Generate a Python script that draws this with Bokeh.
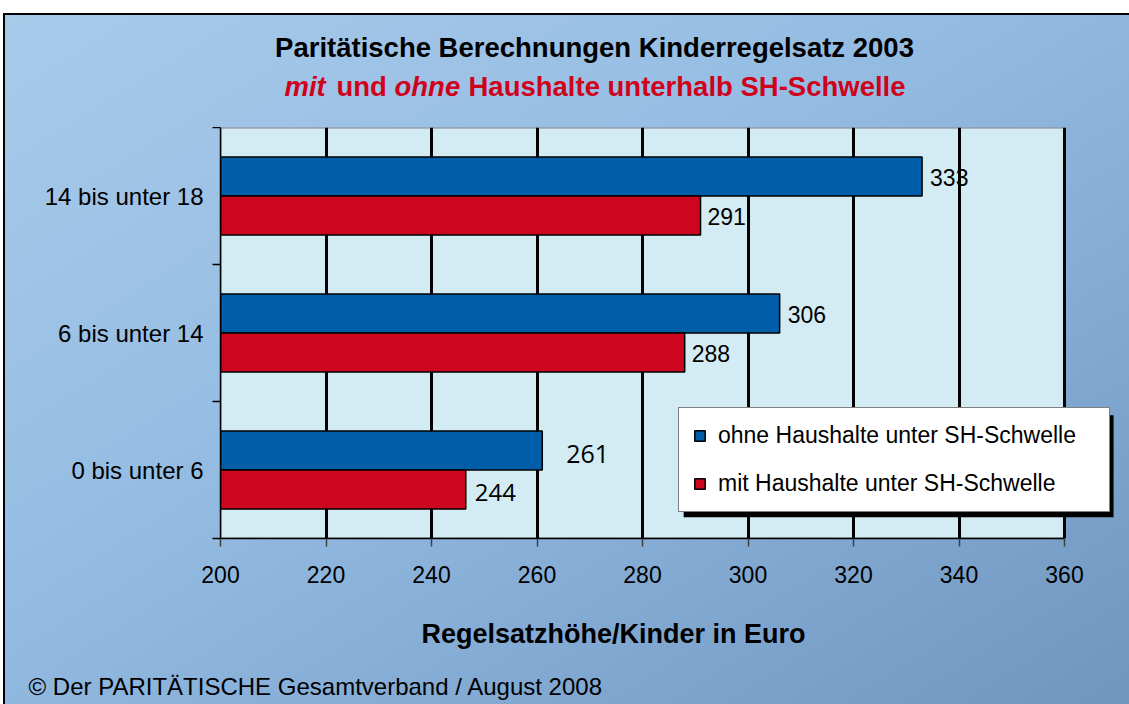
from bokeh.plotting import figure
from bokeh.layouts import column
from bokeh.models import (ColumnDataSource, Range1d, FixedTicker, Legend, LegendItem,
                          BoxAnnotation)
from bokeh.transform import dodge
from bokeh.core.properties import value
from bokeh.embed import file_html
from bokeh.resources import INLINE

# ---- data ----
categories = ["0 bis unter 6", "6 bis unter 14", "14 bis unter 18"]
ohne_values = [261, 306, 333]          # blue bars
ohne_labels = ["261", "306", "333"]
mit_values = [246.5, 288, 291]         # red bars (bar lengths)
mit_labels = ["244", "288", "291"]
x_ticks = [200, 220, 240, 260, 280, 300, 320, 340, 360]

title_text = "Paritätische Berechnungen Kinderregelsatz 2003"
subtitle_parts = ["mit", "und", "ohne", "Haushalte unterhalb SH-Schwelle"]
footer_text = "© Der PARITÄTISCHE Gesamtverband / August 2008"
x_label = "Regelsatzhöhe/Kinder in Euro"
legend_ohne = "ohne Haushalte unter SH-Schwelle"
legend_mit = "mit Haushalte unter SH-Schwelle"

BLUE = "#005da8"
RED = "#cc061e"
FONT = "Liberation Sans"
W = 1129


def text_panel(height):
    f = figure(width=W, height=height, output_backend="svg", toolbar_location=None,
               x_range=Range1d(0, W), y_range=Range1d(height, 0),
               x_axis_type=None, y_axis_type=None, min_border=0)
    f.frame_align = False
    f.border_fill_color = None
    f.background_fill_color = None
    f.outline_line_color = None
    f.grid.visible = False
    return f


# ---------------- header (title) ----------------
hdr = text_panel(127)
hdr.text(x=[594], y=[47], text=[title_text], text_align="center", text_baseline="middle",
         text_font=value(FONT), text_font_size="27.5px", text_font_style="bold",
         text_color="black")
sub_x = [284, 336, 394, 468]
sub_style = ["bold italic", "bold", "bold italic", "bold"]
for txt, xx, st in zip(subtitle_parts, sub_x, sub_style):
    hdr.text(x=[xx], y=[86], text=[txt], text_align="left", text_baseline="middle",
             text_font=value(FONT), text_font_size="27.5px", text_font_style=st,
             text_color="#d0021b")

# ---------------- main chart ----------------
ypos = [i + 0.5 for i in range(len(categories))]
src = ColumnDataSource(dict(y=ypos, ohne=ohne_values, mit=mit_values,
                            ohne_lab=ohne_labels, mit_lab=mit_labels))

x_end = x_ticks[-1] + 57 / 5.275   # room right of the plot area for the legend
p = figure(width=W, height=473, output_backend="svg", toolbar_location=None,
           x_range=Range1d(x_ticks[0], x_end), y_range=Range1d(0, len(categories)),
           min_border_left=220, min_border_right=8, min_border_top=0,
           min_border_bottom=62)
p.frame_align = False
p.border_fill_color = None
p.background_fill_color = None
p.outline_line_color = None

# plot-area background (value range of the chart)
p.quad(left=[x_ticks[0]], right=[x_ticks[-1]], bottom=[0], top=[len(categories)],
       fill_color="#d3ebf2", line_color="#808080", line_width=2, level="image")

xt = FixedTicker(ticks=x_ticks)
p.xaxis.ticker = xt
p.xgrid.ticker = xt
p.xgrid.grid_line_color = "black"
p.xgrid.grid_line_width = 3
p.ygrid.visible = False

# bars
rb = p.hbar(y=dodge("y", 0.1425), left=x_ticks[0], right="ohne", height=0.285, source=src,
            fill_color=BLUE, line_color="black", line_width=1.5)
rr = p.hbar(y=dodge("y", -0.1425), left=x_ticks[0], right="mit", height=0.285, source=src,
            fill_color=RED, line_color="black", line_width=1.5)

# value labels
so = ColumnDataSource(dict(x=ohne_values[1:], y=ypos[1:], t=ohne_labels[1:]))
p.text(x="x", y=dodge("y", 0.1425), text="t", source=so, x_offset=8, y_offset=1,
       text_baseline="middle", text_font=value(FONT), text_font_size="23px", text_color="black")
so0 = ColumnDataSource(dict(x=ohne_values[:1], y=ypos[:1], t=ohne_labels[:1]))
p.text(x="x", y=dodge("y", 0.1425), text="t", source=so0, x_offset=24, y_offset=4,
       text_baseline="middle", text_font=value("Open Sans"), text_font_size="25px",
       text_color="black")
sm = ColumnDataSource(dict(x=mit_values[1:], y=ypos[1:], t=mit_labels[1:]))
p.text(x="x", y=dodge("y", -0.1425), text="t", source=sm, x_offset=7, y_offset=1,
       text_baseline="middle", text_font=value(FONT), text_font_size="23px", text_color="black")
sm0 = ColumnDataSource(dict(x=mit_values[:1], y=ypos[:1], t=mit_labels[:1]))
p.text(x="x", y=dodge("y", -0.1425), text="t", source=sm0, x_offset=9, y_offset=3,
       text_baseline="middle", text_font=value("Open Sans"), text_font_size="24px",
       text_color="black")

# x axis
xa = p.xaxis[0]
xa.bounds = (x_ticks[0], x_ticks[-1])
xa.axis_line_color = "black"
xa.axis_line_width = 1.5
xa.major_tick_line_color = "#404040"
xa.major_tick_line_width = 1.5
xa.major_tick_out = 8
xa.major_tick_in = 0
xa.minor_tick_line_color = None
xa.major_label_standoff = 19
xa.major_label_text_font = FONT
xa.major_label_text_font_size = "23px"
xa.major_label_text_color = "black"

# y axis
ya = p.yaxis[0]
ya.ticker = FixedTicker(ticks=ypos, minor_ticks=list(range(len(categories) + 1)))
ya.major_label_overrides = {y: c for y, c in zip(ypos, categories)}
ya.axis_line_color = "black"
ya.axis_line_width = 1.5
ya.major_tick_line_color = None
ya.major_tick_out = 0
ya.major_tick_in = 0
ya.minor_tick_line_color = "black"
ya.minor_tick_line_width = 1.5
ya.minor_tick_out = 8
ya.minor_tick_in = 0
ya.major_label_standoff = 9
ya.major_label_text_font = FONT
ya.major_label_text_font_size = "24px"
ya.major_label_text_color = "black"

# legend shadow + legend
p.add_layout(BoxAnnotation(left=287.8, right=369.3, bottom=0.155, top=0.9,
                           fill_color="black", fill_alpha=1, line_color=None))
legend = Legend(items=[LegendItem(label=legend_ohne, renderers=[rb]),
                       LegendItem(label=legend_mit, renderers=[rr])],
                location=(458, 26), orientation="vertical",
                label_text_font=FONT, label_text_font_size="23px", label_text_color="black",
                glyph_width=13, glyph_height=13, padding=14, spacing=21, label_standoff=12,
                label_width=377, border_line_color="black", border_line_width=1.5,
                background_fill_color="white", background_fill_alpha=1, margin=0)
p.add_layout(legend, "center")

# ---------------- axis title + footer ----------------
ftr = text_panel(104)
ftr.text(x=[613], y=[33], text=[x_label], text_align="center", text_baseline="middle",
         text_font=value(FONT), text_font_size="27px", text_font_style="bold",
         text_color="black")
ftr.text(x=[28], y=[86], text=[footer_text], text_align="left", text_baseline="middle",
         text_font=value(FONT), text_font_size="24px", text_color="black")

layout = column(hdr, p, ftr, spacing=0)
layout.styles = {
    "background": ("linear-gradient(#000,#000) 3px 13px / 100% 2px no-repeat, "
                   "linear-gradient(#000,#000) 3px 13px / 2px 100% no-repeat, "
                   "linear-gradient(#fff,#fff) 0 0 / 100% 13px no-repeat, "
                   "linear-gradient(#fff,#fff) 0 0 / 3px 100% no-repeat, "
                   "linear-gradient(to bottom right, #a9cbea 0%, #93bbe2 45%, #7096c0 100%)")
}

open("out.html", "w").write(file_html(layout, INLINE))
